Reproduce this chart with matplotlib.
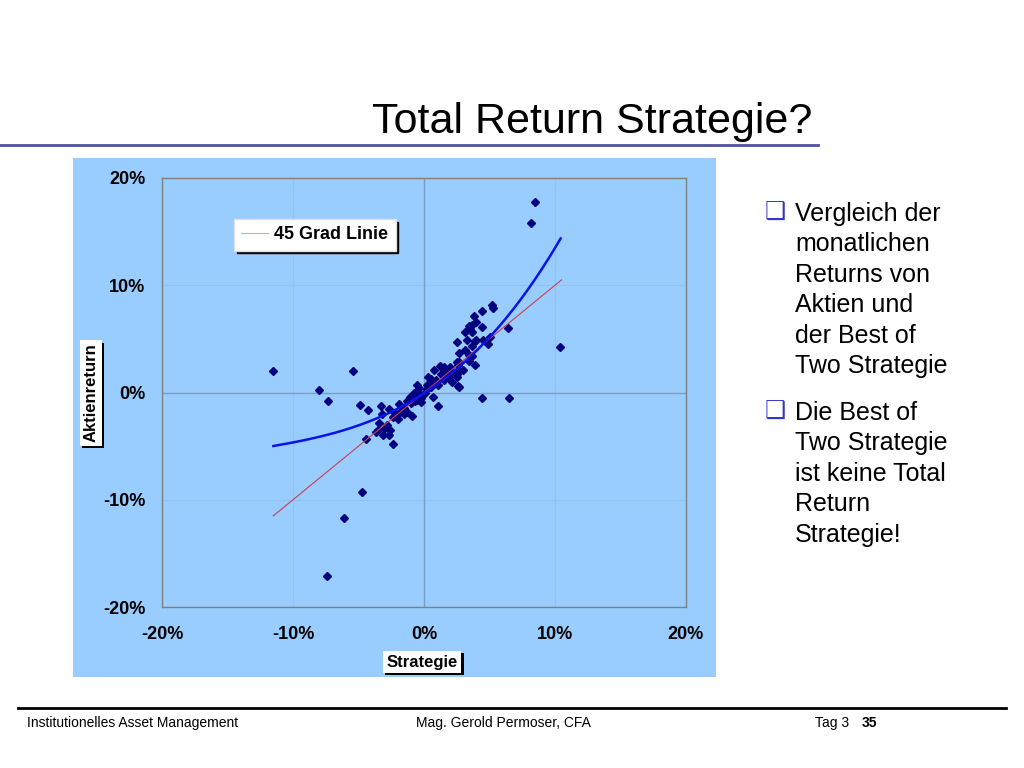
import numpy as np
import matplotlib
matplotlib.use("Agg")
import matplotlib.pyplot as plt
import matplotlib.patheffects as pe
from matplotlib.patches import Rectangle
from matplotlib.lines import Line2D

plt.rcParams['font.family'] = ['Liberation Sans', 'DejaVu Sans']

# Monatliche Returns (in %): Strategie (x) gegen Aktien (y)
strategie = [
    -11.5, -8.0, -7.3, -5.4, -4.9, -4.3, -4.7, -6.1, -7.4, 8.5, 8.2, 10.4, 6.4, 6.5, 4.4,
    -4.4, -2.4, -3.1, -2.7, -3.7, -3.5, -2.6, -3.4, -2.8, -3.2, -3.3, -2.7, -2.4, -2.2,
    -1.9, -1.8, -1.5, -1.3, -0.9, -1.3, -1.1, -0.8, -0.5, -0.8, -0.5, -0.5, -0.2, -0.2,
    0.1, 0.2, 0.5, 0.7, 1.1, 0.3, 0.5, 0.8, 1.1, 1.2, 1.5, 1.3, 1.5, 1.6, 1.8, 2.0, 2.1,
    2.1, 2.5, 2.5, 2.6, 2.6, 2.5, 2.6, 2.7, 2.7, 3.0, 3.4, 3.7, 3.9, 2.7, 3.1, 3.4, 3.7,
    2.5, 3.3, 4.0, 4.5, 4.9, 5.0, 3.1, 3.7, 3.4, 3.7, 4.4, 3.5, 3.8, 4.0, 4.4, 5.2, 5.3,
    3.9, -0.4, 0.2, 0.6, 0.9, -0.2, -0.7, -1.5, -2.0, -3.0, -1.0,
]
aktien = [
    2.0, 0.2, -0.8, 2.0, -1.2, -1.6, -9.3, -11.7, -17.1, 17.8, 15.8, 4.2, 6.0, -0.5, -0.5,
    -4.3, -4.8, -4.0, -4.0, -3.7, -3.5, -3.5, -2.8, -3.0, -2.0, -1.3, -1.5, -2.3, -1.9,
    -1.1, -1.8, -1.4, -1.8, -2.2, -0.8, -0.4, 0.0, -0.7, -0.4, 0.7, 0.1, -0.9, -0.5,
    0.0, 0.7, 0.5, -0.4, -1.3, 1.4, 1.3, 2.1, 0.7, 2.5, 1.2, 1.7, 2.4, 1.9, 1.4, 2.4, 1.9,
    1.0, 2.8, 1.7, 2.6, 2.0, 1.4, 0.6, 0.5, 2.8, 2.1, 2.9, 3.4, 2.6, 3.7, 4.0, 3.5, 4.3,
    4.7, 4.9, 4.9, 4.9, 4.5, 5.2, 5.6, 5.6, 6.2, 6.3, 6.1, 5.9, 7.1, 6.6, 7.6, 8.2, 7.9,
    4.8, 0.4, 0.3, 0.8, 1.2, -0.2, -0.8, -2.0, -2.5, -3.3, -1.0,
]

trend_x = [-11.5, -10.5, -8.2, -5.65, -3.5, -0.5, 1.22, 2.49, 3.76, 5.04, 6.31, 7.58, 8.85, 10.43]
trend_y = [-4.76, -4.85, -4.48, -3.45, -2.33, -0.19, 1.21, 2.46, 3.54, 4.75, 6.5, 8.99, 11.78, 14.27]

# 45 Grad Linie
linie_x = [-11.5, 10.5]

ticks = [-20, -10, 0, 10, 20]

bullet1 = ["Vergleich der", "monatlichen", "Returns von", "Aktien und", "der Best of", "Two Strategie"]
bullet2 = ["Die Best of", "Two Strategie", "ist keine Total", "Return", "Strategie!"]

W, H = 1024, 768


def fx(x):
    return x / W


def fy(y):
    return 1 - y / H


fig = plt.figure(figsize=(10.24, 7.68), dpi=100)
fig.patch.set_facecolor("white")

# Titel
fig.text(fx(812), fy(133), "Total Return Strategie?", ha="right", va="baseline", fontsize=31)
fig.add_artist(Line2D([0, fx(818)], [fy(145), fy(145)], color="#50509f", lw=2))

# Hintergrund des Diagramms
fig.add_artist(Rectangle((fx(73), fy(677)), fx(643), 519 / H, facecolor="#99ccff",
                         edgecolor="none", zorder=0))

ax = fig.add_axes([fx(162), fy(607), fx(524), 429 / H])
ax.set_facecolor("#99ccff")
for s in ax.spines.values():
    s.set_color("#808080")
    s.set_linewidth(1)
ax.set_xlim(-20, 20)
ax.set_ylim(-20, 20)
ax.set_xticks(ticks)
ax.set_yticks(ticks)
ax.set_xticklabels([f"{t}%" for t in ticks])
ax.set_yticklabels([f"{t}%" for t in ticks])
ax.tick_params(length=0, labelsize=13)
ax.tick_params(axis="y", pad=12)
ax.tick_params(axis="x", pad=14)
for lbl in ax.get_xticklabels() + ax.get_yticklabels():
    lbl.set_fontweight("bold")
ax.grid(color="#92c3f0", lw=0.8)
ax.set_axisbelow(True)
ax.axhline(0, color="#7b9ec4", lw=1, zorder=1)
ax.axvline(0, color="#7b9ec4", lw=1, zorder=1)

# Punkte
ax.plot(strategie, aktien, linestyle="none", marker="D", ms=4.2, color="#000080", zorder=3)

# 45 Grad Linie
line45, = ax.plot(linie_x, linie_x, color="#c8404f", lw=0.8, zorder=4)

# Trendkurve (Polynom 3. Grades)
coef = np.polyfit(trend_x, trend_y, 3)
xs = np.linspace(trend_x[0], trend_x[-1], 200)
ax.plot(xs, np.polyval(coef, xs), color="#0a14e6", lw=1.8, zorder=5)

leg_handle = Line2D([], [], color="#eaa0ac", lw=0.8)
leg = ax.legend([leg_handle], ["45 Grad Linie"], loc="upper left", bbox_to_anchor=(0.137, 0.904),
                borderaxespad=0, fancybox=False, framealpha=1, edgecolor="#e0e0e0",
                shadow={"color": "black", "alpha": 1}, prop=dict(weight="bold", size=13),
                handlelength=1.5, handletextpad=0.35, borderpad=0.4)

# Achsenbeschriftungen mit Schatten
shadow = [pe.SimplePatchShadow(offset=(1.6, -1.6), shadow_rgbFace="black", alpha=1), pe.Normal()]
t1 = fig.text(fx(91), fy(393), "Aktienreturn", rotation=90, ha="center", va="center",
              fontsize=12, fontweight="bold",
              bbox=dict(boxstyle="square,pad=0.2", fc="white", ec="none"))
t1.get_bbox_patch().set_path_effects(shadow)
t2 = fig.text(fx(422), fy(662), "Strategie", ha="center", va="center",
              fontsize=12, fontweight="bold",
              bbox=dict(boxstyle="square,pad=0.22", fc="white", ec="none"))
t2.get_bbox_patch().set_path_effects(shadow)

# Text rechts
for lines, base in ((bullet1, 221), (bullet2, 420)):
    fig.text(fx(765), fy(base - 1), "\u2751", family="DejaVu Sans", fontsize=17,
             color="#3535c8", ha="left", va="baseline")
    for i, txt in enumerate(lines):
        fig.text(fx(795), fy(base + i * 30.4), txt, fontsize=18, ha="left", va="baseline")

# Fusszeile
fig.add_artist(Line2D([fx(18), fx(1006)], [fy(708), fy(708)], color="black", lw=2))
fig.text(fx(27), fy(727), "Institutionelles Asset Management", fontsize=10, va="baseline")
fig.text(fx(416), fy(727), "Mag. Gerold Permoser, CFA", fontsize=10, va="baseline")
fig.text(fx(815), fy(727), "Tag 3", fontsize=10, va="baseline")
fig.text(fx(862), fy(727), "35", fontsize=10, fontweight="bold", va="baseline")

fig.savefig("out.png", dpi=100)
